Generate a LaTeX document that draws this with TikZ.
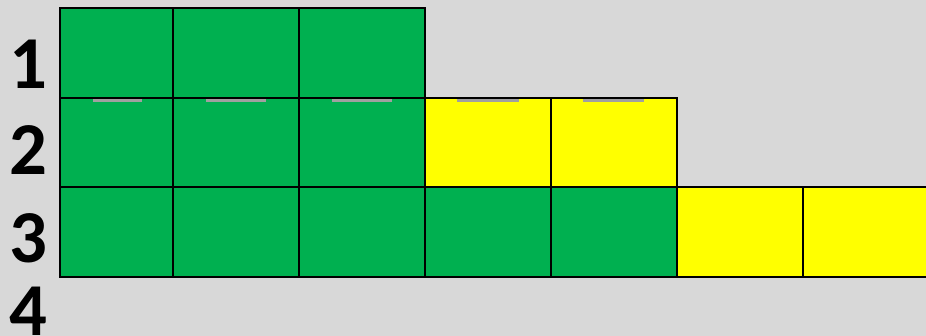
\documentclass[tikz,border=0pt]{standalone}
\usepackage{fontspec}
\setmainfont{Carlito}
\definecolor{bg}{RGB}{216,216,216}
\definecolor{cgreen}{RGB}{0,176,80}
\definecolor{cyellow}{RGB}{255,255,0}
\definecolor{dash}{RGB}{160,160,160}
\begin{document}
\begin{tikzpicture}[x=0.75pt,y=-0.75pt,
  greencell/.style={fill=cgreen,draw=black,line width=1.2pt},
  yellowcell/.style={fill=cyellow,draw=black,line width=1.2pt},
  rowlabel/.style={font=\fontsize{56}{60}\selectfont\bfseries,inner sep=0pt,anchor=center},
  gdash/.style={draw=dash,line width=1.6pt}]
\useasboundingbox (0,0) rectangle (926,336);
\clip (0,0) rectangle (926,336);
\fill[bg] (0,0) rectangle (926,336);
% row 1
\draw[greencell] (60,8) rectangle (173,98);
\draw[greencell] (173,8) rectangle (299,98);
\draw[greencell] (299,8) rectangle (425,98);
% row 2
\draw[greencell] (60,98) rectangle (173,187);
\draw[greencell] (173,98) rectangle (299,187);
\draw[greencell] (299,98) rectangle (425,187);
\draw[yellowcell] (425,98) rectangle (551,187);
\draw[yellowcell] (551,98) rectangle (677,187);
% row 3
\draw[greencell] (60,187) rectangle (173,277);
\draw[greencell] (173,187) rectangle (299,277);
\draw[greencell] (299,187) rectangle (425,277);
\draw[greencell] (425,187) rectangle (551,277);
\draw[greencell] (551,187) rectangle (677,277);
\draw[yellowcell] (677,187) rectangle (803,277);
\draw[yellowcell] (803,187) rectangle (932,277);
% grey dashes on row 2 top edge
\draw[gdash] (93,100.5) -- (142,100.5);
\draw[gdash] (206,100.5) -- (266,100.5);
\draw[gdash] (332,100.5) -- (392,100.5);
\draw[gdash] (457,100.5) -- (519,100.5);
\draw[gdash] (583,100.5) -- (644,100.5);
% labels
\node[rowlabel] (l1) at (28,64) {1};
\node[rowlabel] (l2) at (28,150) {2};
\node[rowlabel] (l3) at (28,238) {3};
\node[rowlabel] (l4) at (28,311) {4};
\end{tikzpicture}
\end{document}
